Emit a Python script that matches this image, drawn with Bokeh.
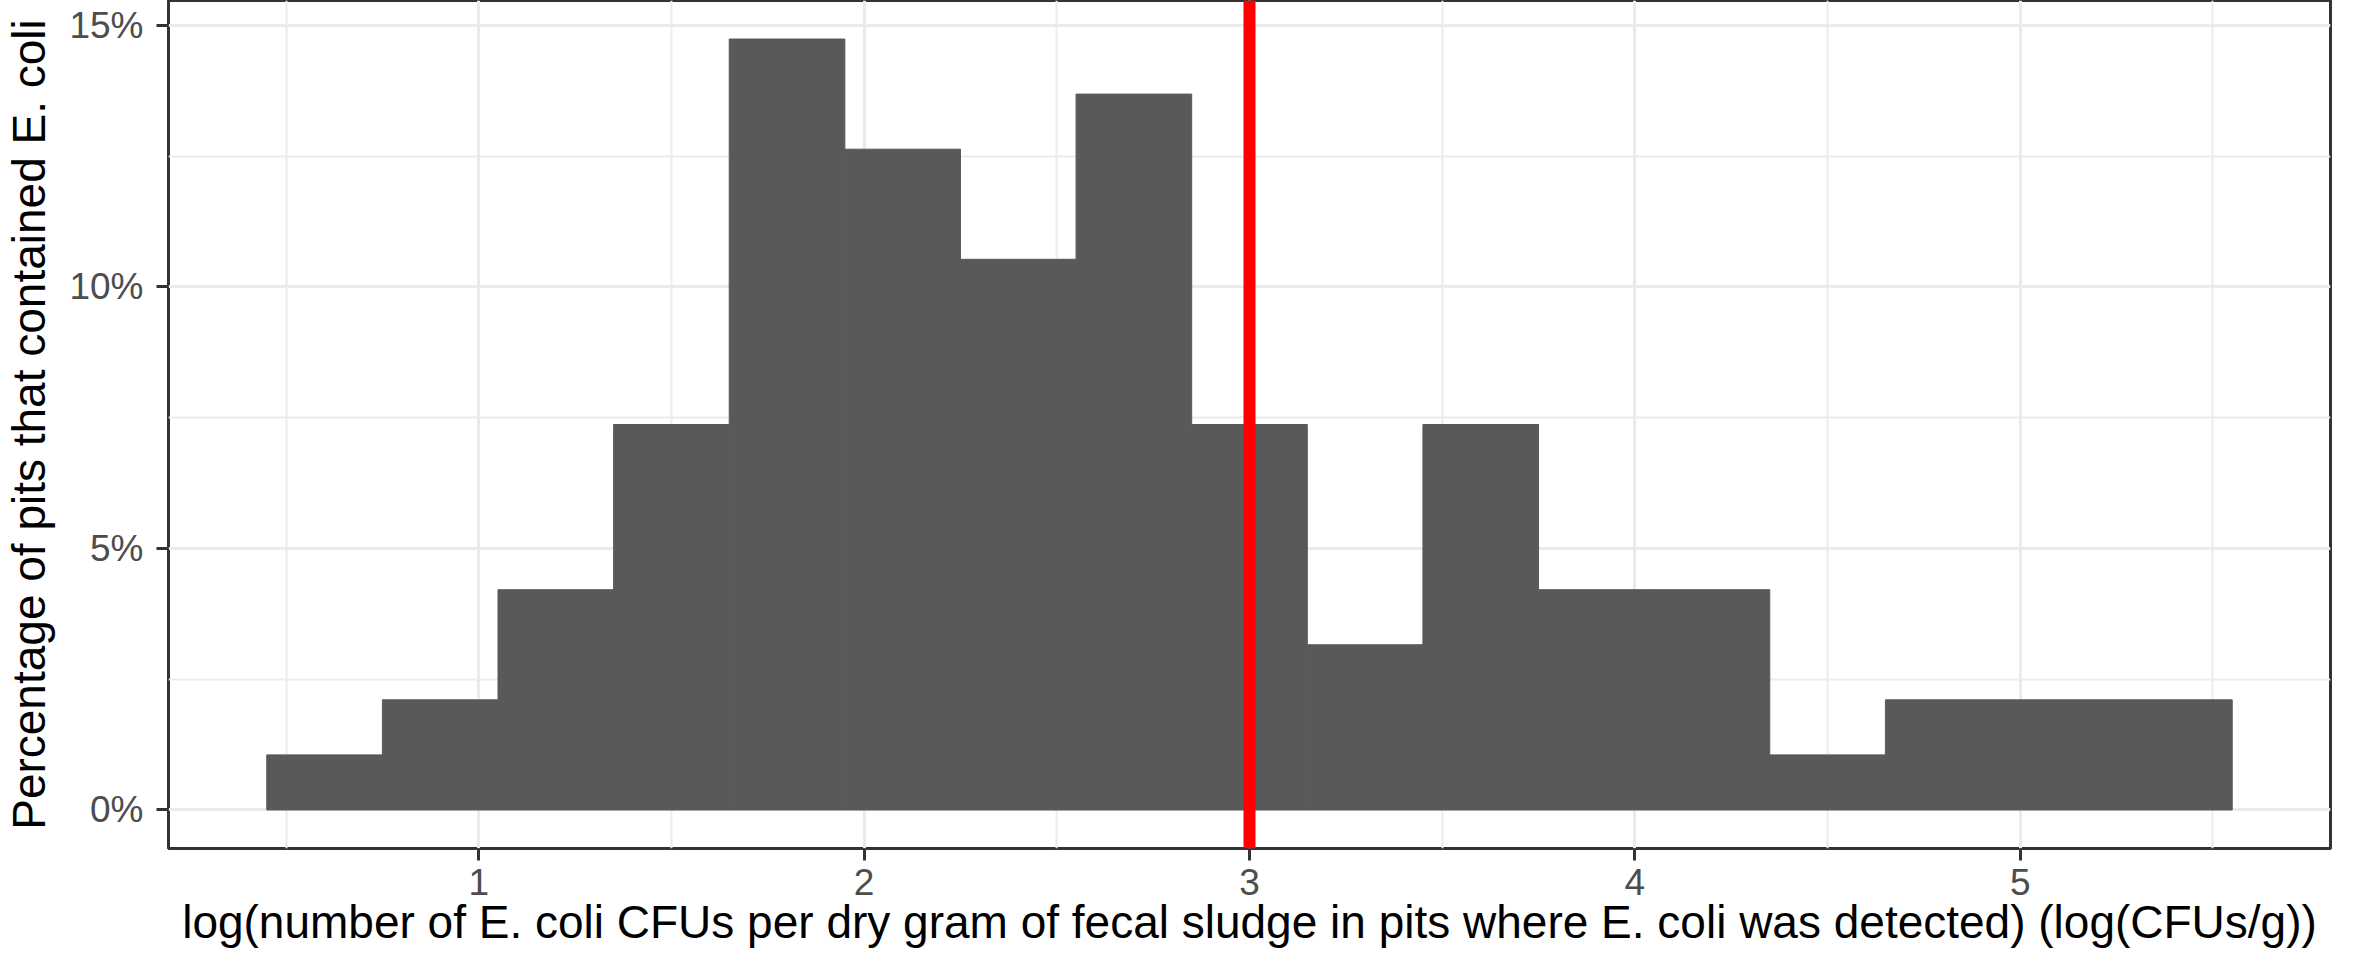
from bokeh.plotting import figure
from bokeh.models import Range1d, FixedTicker, Span, ColumnDataSource
from bokeh.embed import file_html
from bokeh.resources import INLINE

# --- data ---
bin_left = [0.45, 0.75, 1.05, 1.35, 1.65, 1.95, 2.25, 2.55, 2.85, 3.15,
            3.45, 3.75, 4.05, 4.35, 4.65, 4.95, 5.25]
bin_right = [0.75, 1.05, 1.35, 1.65, 1.95, 2.25, 2.55, 2.85, 3.15, 3.45,
             3.75, 4.05, 4.35, 4.65, 4.95, 5.25, 5.55]
counts = [1, 2, 4, 7, 14, 12, 10, 13, 7, 3, 7, 4, 4, 1, 2, 2, 2]
total_pits = 95
threshold = 3.0

x_ticks = [1, 2, 3, 4, 5]
x_tick_labels = ["1", "2", "3", "4", "5"]
x_minor = [0.5, 1.5, 2.5, 3.5, 4.5, 5.5]
y_ticks = [0, 5, 10, 15]
y_tick_labels = ["0%", "5%", "10%", "15%"]
y_minor = [2.5, 7.5, 12.5]

x_title = "log(number of E. coli CFUs per dry gram of fecal sludge in pits where E. coli was detected) (log(CFUs/g))"
y_title = "Percentage of pits that contained E. coli"

pct = [c / total_pits * 100 for c in counts]
src = ColumnDataSource(dict(left=bin_left, right=bin_right, top=pct,
                            bottom=[0] * len(pct)))

# ggplot-like 5% expansion
xmin, xmax = min(bin_left), max(bin_right)
xpad = (xmax - xmin) * 0.05
ymax = max(pct)
ypad = ymax * 0.05

p = figure(width=2350, height=950, output_backend="svg", toolbar_location=None,
           x_range=Range1d(xmin - xpad, xmax + xpad),
           y_range=Range1d(-ypad, ymax + ypad),
           min_border_left=164, min_border_right=20, min_border_top=0,
           min_border_bottom=100)

p.background_fill_color = "white"
p.border_fill_color = "white"
p.outline_line_color = "#333333"
p.outline_line_width = 3

p.quad(left="left", right="right", top="top", bottom="bottom", source=src,
       fill_color="#595959", line_color="#595959", line_width=1)

p.add_layout(Span(location=threshold, dimension="height", line_color="#FF0000",
                  line_width=12))

p.xaxis.ticker = FixedTicker(ticks=x_ticks, minor_ticks=x_minor)
p.yaxis.ticker = FixedTicker(ticks=y_ticks, minor_ticks=y_minor)
p.xaxis.major_label_overrides = dict(zip(x_ticks, x_tick_labels))
p.yaxis.major_label_overrides = dict(zip(y_ticks, y_tick_labels))

for ax in (p.xaxis, p.yaxis):
    ax.axis_line_color = None
    ax.major_tick_line_color = "#333333"
    ax.major_tick_line_width = 3
    ax.major_tick_out = 12
    ax.major_tick_in = 0
    ax.minor_tick_line_color = None
    ax.major_label_text_font = "Liberation Sans"
    ax.major_label_text_font_size = "37px"
    ax.major_label_text_color = "#4D4D4D"
    ax.axis_label_text_font = "Liberation Sans"
    ax.axis_label_text_font_size = "46px"
    ax.axis_label_text_font_style = "normal"
    ax.axis_label_text_color = "black"

p.xaxis.axis_label = x_title
p.yaxis.axis_label = y_title
p.xaxis.major_label_standoff = 8
p.xaxis.axis_label_standoff = -2
p.yaxis.major_label_standoff = 13
p.yaxis.axis_label_standoff = 11

for g in (p.xgrid, p.ygrid):
    g.grid_line_color = "#EBEBEB"
    g.grid_line_width = 3
    g.minor_grid_line_color = "#EBEBEB"
    g.minor_grid_line_width = 2

open("out.html", "w").write(file_html(p, INLINE))
